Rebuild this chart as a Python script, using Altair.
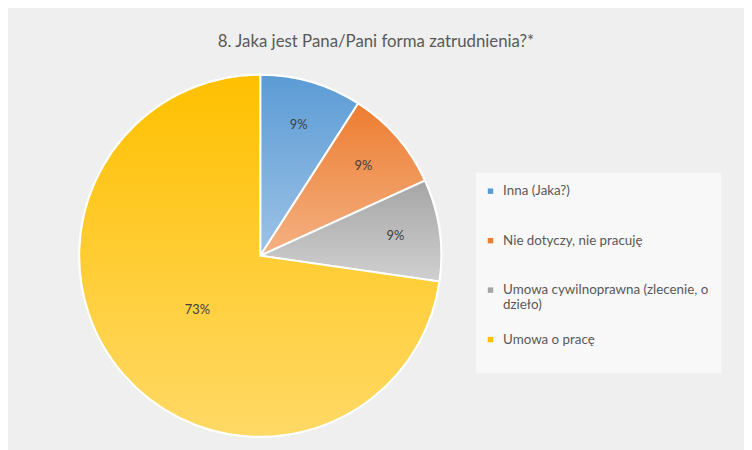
import altair as alt
import pandas as pd

categories = ["Inna (Jaka?)", "Nie dotyczy, nie pracuję",
              "Umowa cywilnoprawna (zlecenie, o dzieło)", "Umowa o pracę"]
values = [1, 1, 1, 8]
order = [0, 1, 2, 3]
top_colors = ["#5B9BD5", "#ED7D31", "#A5A5A5", "#FFC000"]
bottom_colors = ["#9DC3E6", "#F4B183", "#D0D0D0", "#FFD966"]

df = pd.DataFrame({"kat": categories, "val": values, "ord": order})

FONT = "Lato"

theta_scale = alt.Scale(domain=[0, 1])
theta = alt.Theta("start:Q", stack=None, scale=theta_scale)

base = alt.Chart(df)

label_expr = (
    "datum.label == 'Umowa cywilnoprawna (zlecenie, o dzieło)' "
    "? ['Umowa cywilnoprawna (zlecenie, o', 'dzieło)'] : [datum.label, ' ']"
)

legend_layer = base.mark_arc(radius=183, stroke="white", strokeWidth=2).encode(
    theta=theta,
    theta2="end:Q",
    color=alt.Color(
        "kat:N",
        scale=alt.Scale(domain=categories, range=top_colors),
        legend=alt.Legend(
            title=None,
            orient="none",
            legendX=473,
            legendY=114,
            direction="vertical",
            symbolType="square",
            symbolSize=30,
            symbolStrokeWidth=0,
            symbolOffset=-4,
            labelFont=FONT,
            labelFontSize=13.5,
            labelColor="#595959",
            labelOffset=6,
            labelLimit=260,
            rowPadding=20,
            padding=12,
            fillColor="#f8f8f8",
            labelExpr=label_expr,
        ),
    ),
)

layers = [legend_layer]
for cat, c1, c2 in zip(categories, top_colors, bottom_colors):
    grad = alt.LinearGradient(
        gradient="linear",
        stops=[alt.GradientStop(offset=0, color=c1), alt.GradientStop(offset=1, color=c2)],
        x1=0, x2=0, y1=0, y2=1,
    )
    layers.append(
        base.mark_arc(radius=183, stroke="white", strokeWidth=2, fill=grad)
        .encode(theta=theta, theta2="end:Q")
        .transform_filter(alt.datum.kat == cat)
    )

small_text = base.mark_text(radius=138, font=FONT, fontSize=13, color="#404040").encode(
    theta=alt.Theta("mid:Q", stack=None, scale=theta_scale), text="pct:N"
).transform_filter(alt.datum.val < 4)
big_text = base.mark_text(radius=84, font=FONT, fontSize=13, color="#404040").encode(
    theta=alt.Theta("mid:Q", stack=None, scale=theta_scale), text="pct:N"
).transform_filter(alt.datum.val >= 4)
layers += [small_text, big_text]

chart = alt.layer(*layers).transform_window(
    cum="sum(val)", sort=[alt.SortField("ord")]
).transform_joinaggregate(
    total="sum(val)"
).transform_calculate(
    end="datum.cum / datum.total",
    start="(datum.cum - datum.val) / datum.total",
    mid="(datum.cum - datum.val / 2) / datum.total",
    pct="round(datum.val / datum.total * 100) + '%'",
).properties(
    width=510,
    height=396,
    padding={"left": 0, "top": 50, "right": 234, "bottom": 0},
    autosize=alt.AutoSizeParams(type="none"),
    background="#efefef",
    title=alt.TitleParams(
        "8. Jaka jest Pana/Pani forma zatrudnienia?*",
        anchor="middle",
        dx=117,
        offset=9,
        font=FONT,
        fontSize=17,
        fontWeight="normal",
        color="#595959",
    ),
).configure_view(stroke=None)

chart.save("out.html", embed_options={"renderer": "svg", "actions": False})
